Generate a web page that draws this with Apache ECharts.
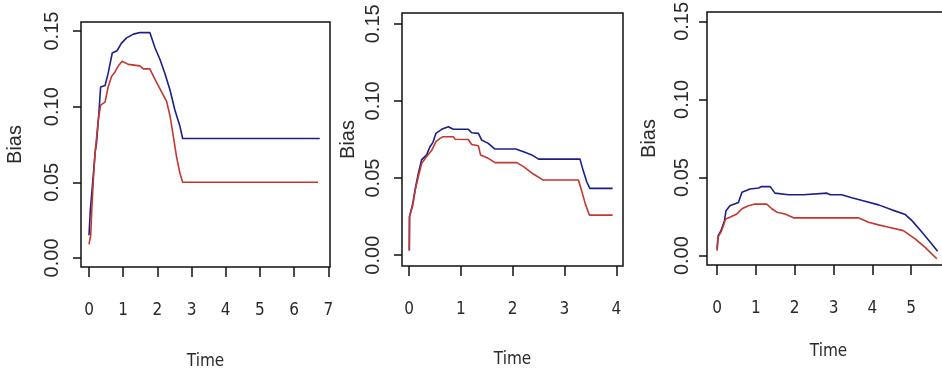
<!DOCTYPE html>
<html>
<head>
<meta charset="utf-8">
<script src="https://cdn.jsdelivr.net/npm/echarts@6.0.0/dist/echarts.min.js"></script>
<style>
  html, body { margin: 0; padding: 0; background: #fff; }
  #chart { width: 942px; height: 374px; }
</style>
</head>
<body>
<div id="chart"></div>
<script>
// ---------- data ----------
const xTicks1 = [0, 1, 2, 3, 4, 5, 6, 7];
const xTicks2 = [0, 1, 2, 3, 4];
const xTicks3 = [0, 1, 2, 3, 4, 5, 6];
const yTicks = [0, 0.05, 0.10, 0.15];

const p1BlueT = [0, 0.02, 0.04, 0.13, 0.18, 0.22, 0.29, 0.34, 0.47, 0.56, 0.68, 0.82, 0.95, 1.10, 1.30, 1.49, 1.78, 1.93, 2.08, 2.22, 2.37, 2.51, 2.66, 2.74, 6.75];
const p1BlueV = [0.015, 0.016, 0.032, 0.056, 0.070, 0.076, 0.096, 0.113, 0.114, 0.122, 0.1355, 0.137, 0.142, 0.1455, 0.148, 0.149, 0.149, 0.139, 0.131, 0.122, 0.111, 0.098, 0.087, 0.079, 0.079];
const p1RedT = [0, 0.03, 0.05, 0.08, 0.13, 0.18, 0.27, 0.34, 0.47, 0.56, 0.66, 0.76, 0.86, 0.97, 1.15, 1.49, 1.59, 1.78, 1.93, 2.12, 2.27, 2.37, 2.47, 2.56, 2.66, 2.74, 6.70];
const p1RedV = [0.009, 0.010, 0.015, 0.031, 0.053, 0.070, 0.091, 0.101, 0.103, 0.113, 0.120, 0.123, 0.127, 0.130, 0.128, 0.127, 0.125, 0.125, 0.118, 0.110, 0.1035, 0.094, 0.080, 0.067, 0.056, 0.050, 0.050];

const p2BlueT = [0.006, 0.01, 0.07, 0.12, 0.18, 0.245, 0.34, 0.405, 0.46, 0.52, 0.63, 0.76, 0.855, 1.145, 1.21, 1.34, 1.40, 1.53, 1.66, 2.06, 2.21, 2.37, 2.50, 3.30, 3.36, 3.43, 3.49, 3.93];
const p2BlueV = [0.003, 0.025, 0.033, 0.043, 0.053, 0.062, 0.065, 0.0703, 0.073, 0.079, 0.0816, 0.0833, 0.0816, 0.0816, 0.0794, 0.079, 0.0747, 0.0725, 0.0688, 0.0688, 0.067, 0.065, 0.0623, 0.0623, 0.055, 0.0476, 0.0433, 0.0433];
const p2RedT = [0.006, 0.01, 0.07, 0.12, 0.18, 0.245, 0.34, 0.44, 0.52, 0.60, 0.66, 0.855, 0.89, 1.145, 1.21, 1.34, 1.38, 1.53, 1.66, 2.08, 2.21, 2.40, 2.59, 3.27, 3.33, 3.40, 3.48, 3.93];
const p2RedV = [0.003, 0.025, 0.032, 0.042, 0.051, 0.0595, 0.064, 0.068, 0.0736, 0.0757, 0.0768, 0.0768, 0.0752, 0.075, 0.0718, 0.071, 0.065, 0.0628, 0.060, 0.060, 0.0574, 0.0526, 0.0487, 0.0487, 0.042, 0.0336, 0.026, 0.026];

const p3BlueT = [0, 0.03, 0.10, 0.19, 0.23, 0.33, 0.55, 0.64, 0.85, 1.07, 1.15, 1.37, 1.49, 1.84, 2.22, 2.27, 2.83, 2.92, 3.21, 3.47, 3.81, 4.16, 4.50, 4.85, 5.02, 5.28, 5.53, 5.68];
const p3BlueV = [0.004, 0.0128, 0.016, 0.0224, 0.0288, 0.032, 0.034, 0.0406, 0.0427, 0.0433, 0.0442, 0.0442, 0.040, 0.039, 0.039, 0.040, 0.040, 0.039, 0.039, 0.037, 0.0348, 0.0325, 0.0293, 0.0263, 0.0224, 0.015, 0.0075, 0.0028];
const p3RedT = [0, 0.02, 0.10, 0.16, 0.22, 0.33, 0.51, 0.64, 0.81, 0.98, 1.28, 1.41, 1.54, 1.75, 1.97, 3.64, 3.90, 4.16, 4.42, 4.80, 5.10, 5.36, 5.66];
const p3RedV = [0.0032, 0.0117, 0.015, 0.019, 0.0235, 0.0246, 0.0267, 0.030, 0.032, 0.033, 0.033, 0.030, 0.0278, 0.0267, 0.0242, 0.0242, 0.0214, 0.0197, 0.0182, 0.016, 0.0107, 0.0053, -0.002];

const xName = 'Time';
const yName = 'Bias';

// ---------- layout / style ----------
const BLUE = '#1c1f8a';
const RED = '#c4372f';
const TXT = '#2a2a2a';
const narrow = '"Liberation Sans Narrow", "DejaVu Sans Condensed", "Liberation Sans", sans-serif';
const regular = '"Liberation Sans", Arial, sans-serif';

const panels = [
  { grid: { left: 81, top: 22, width: 249, height: 245 }, xmin: -0.234, xmax: 7.05, ymin: -0.006, ymax: 0.156, xt: xTicks1, ylGap: 19, ynGap: 56, xlGap: 35, xnGap: 86,
    blue: [p1BlueT, p1BlueV], red: [p1RedT, p1RedV] },
  { grid: { left: 402, top: 13, width: 221, height: 253 }, xmin: -0.135, xmax: 4.13, ymin: -0.007, ymax: 0.157, xt: xTicks2, ylGap: 19, ynGap: 44, xlGap: 35, xnGap: 85,
    blue: [p2BlueT, p2BlueV], red: [p2RedT, p2RedV] },
  { grid: { left: 707, top: 12, width: 243, height: 253 }, xmin: -0.26, xmax: 6.0, ymin: -0.006, ymax: 0.156, xt: xTicks3, ylGap: 15, ynGap: 48, xlGap: 35, xnGap: 78,
    blue: [p3BlueT, p3BlueV], red: [p3RedT, p3RedV] }
];

const zip = (t, v) => t.map((x, i) => [x, v[i]]);

const option = {
  backgroundColor: '#ffffff',
  animation: false,
  grid: [], xAxis: [], yAxis: [], series: []
};

panels.forEach((p, i) => {
  option.grid.push(Object.assign({ show: true, borderColor: '#111', borderWidth: 1.5, backgroundColor: 'transparent',
    containLabel: false, outerBoundsMode: 'none' }, p.grid));
  option.xAxis.push({
    type: 'value', gridIndex: i, min: p.xmin, max: p.xmax, position: 'bottom',
    name: xName, nameLocation: 'middle', nameGap: p.xnGap,
    nameTextStyle: { fontFamily: narrow, fontSize: 17, color: TXT },
    axisLine: { show: false, onZero: false },
    splitLine: { show: false },
    axisTick: { show: true, inside: false, length: 10, customValues: p.xt, lineStyle: { color: '#111', width: 1.5 } },
    axisLabel: { show: true, customValues: p.xt, margin: p.xlGap, fontFamily: narrow, fontSize: 17, color: TXT,
      hideOverlap: false, formatter: v => String(Math.round(v)) }
  });
  option.yAxis.push({
    type: 'value', gridIndex: i, min: p.ymin, max: p.ymax, position: 'left',
    name: yName, nameLocation: 'middle', nameGap: p.ynGap, nameRotate: 90,
    nameTextStyle: { fontFamily: regular, fontSize: 20, color: TXT },
    axisLine: { show: false, onZero: false },
    splitLine: { show: false },
    axisTick: { show: true, inside: false, length: 8, customValues: yTicks, lineStyle: { color: '#111', width: 1.5 } },
    axisLabel: { show: true, customValues: yTicks, rotate: 90, margin: p.ylGap, fontFamily: regular, fontSize: 20, color: TXT,
      formatter: v => v.toFixed(2) }
  });
  option.series.push({
    type: 'line', xAxisIndex: i, yAxisIndex: i, data: zip(p.red[0], p.red[1]),
    showSymbol: false, symbol: 'none', lineStyle: { color: RED, width: 1.6 }, z: 3
  });
  option.series.push({
    type: 'line', xAxisIndex: i, yAxisIndex: i, data: zip(p.blue[0], p.blue[1]),
    showSymbol: false, symbol: 'none', lineStyle: { color: BLUE, width: 1.6 }, z: 2
  });
});

const chart = echarts.init(document.getElementById('chart'), null, { renderer: 'canvas' });
chart.setOption(option);
</script>
</body>
</html>
